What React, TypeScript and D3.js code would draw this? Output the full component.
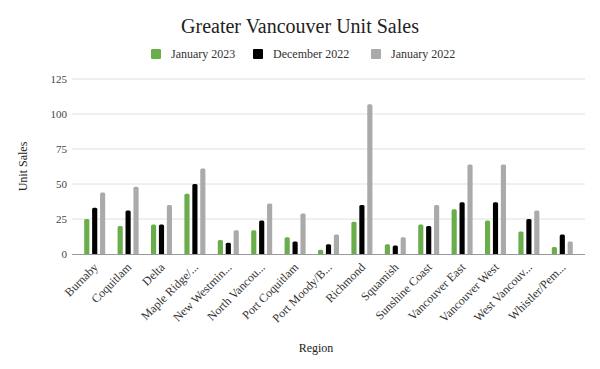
import React, { useEffect, useRef } from "react";
import * as d3 from "d3";

// Chart data
const regions = [
  "Burnaby",
  "Coquitlam",
  "Delta",
  "Maple Ridge/Pitt Meadows",
  "New Westminster",
  "North Vancouver",
  "Port Coquitlam",
  "Port Moody/Belcarra",
  "Richmond",
  "Squamish",
  "Sunshine Coast",
  "Vancouver East",
  "Vancouver West",
  "West Vancouver/Howe Sound",
  "Whistler/Pemberton",
];
// the labels as they show under the axis (long names cut short)
const tickLabels = [
  "Burnaby",
  "Coquitlam",
  "Delta",
  "Maple Ridge/...",
  "New Westmin...",
  "North Vancou...",
  "Port Coquitlam",
  "Port Moody/B...",
  "Richmond",
  "Squamish",
  "Sunshine Coast",
  "Vancouver East",
  "Vancouver West",
  "West Vancouv...",
  "Whistler/Pem...",
];
const jan2023 = [25, 20, 21, 43, 10, 17, 12, 3, 23, 7, 21, 32, 24, 16, 5];
const dec2022 = [33, 31, 21, 50, 8, 24, 9, 7, 35, 6, 20, 37, 37, 25, 14];
const jan2022 = [44, 48, 35, 61, 17, 36, 29, 14, 107, 12, 35, 64, 64, 31, 9];
const seriesNames = ["January 2023", "December 2022", "January 2022"];
const colors = ["#6aae4c", "#000000", "#aaaaaa"];
const yTicks = [0, 25, 50, 75, 100, 125];

const width = 600;
const height = 369;
const marginTop = 79;
const marginBottom = 115;
const plotLeft = 72;
const plotRight = 585;

const App: React.FC = () => {
  const svgRef = useRef<SVGSVGElement>(null);

  useEffect(() => {
    if (!svgRef.current) return;
    const svg = d3.select(svgRef.current);
    svg.selectAll("*").remove();

    const font = "'Liberation Serif', 'Times New Roman', serif";

    const x = d3.scaleBand().domain(regions).range([78, 579]);
    const inner = d3
      .scaleBand()
      .domain(seriesNames)
      .range([x.bandwidth() / 2 - 10.5, x.bandwidth() / 2 + 10.5])
      .paddingInner(0.35);

    const y = d3
      .scaleLinear()
      .domain([0, 125])
      .range([height - marginBottom, marginTop]);

    // title
    svg
      .append("text")
      .attr("x", 300)
      .attr("y", 33)
      .attr("text-anchor", "middle")
      .attr("font-family", font)
      .attr("font-size", 20)
      .attr("fill", "#222")
      .text("Greater Vancouver Unit Sales");

    // legend
    const legendX = [151, 253, 371];
    seriesNames.forEach((name, i) => {
      const g = svg.append("g").attr("transform", `translate(${legendX[i]},49)`);
      g.append("rect")
        .attr("width", 10)
        .attr("height", 10)
        .attr("rx", 1)
        .attr("fill", colors[i]);
      g.append("text")
        .attr("x", 20)
        .attr("y", 9)
        .attr("font-family", font)
        .attr("font-size", 12)
        .attr("fill", "#333")
        .text(name);
    });

    // grid lines
    svg
      .append("g")
      .selectAll("line")
      .data(yTicks.filter((t) => t > 0))
      .join("line")
      .attr("x1", plotLeft)
      .attr("x2", plotRight)
      .attr("y1", (d) => y(d))
      .attr("y2", (d) => y(d))
      .attr("stroke", "#e0e0e0");

    // y tick labels
    svg
      .append("g")
      .selectAll("text")
      .data(yTicks)
      .join("text")
      .attr("x", 67)
      .attr("y", (d) => y(d) + 4)
      .attr("text-anchor", "end")
      .attr("font-family", font)
      .attr("font-size", 11)
      .attr("fill", "#444")
      .text((d) => d);

    // bars
    const allSeries = [jan2023, dec2022, jan2022];
    allSeries.forEach((values, si) => {
      svg
        .append("g")
        .attr("fill", colors[si])
        .selectAll("path")
        .data(values)
        .join("path")
        .attr("d", (d, i) => {
          const x0 = (x(regions[i]) || 0) + (inner(seriesNames[si]) || 0);
          const w = inner.bandwidth();
          const top = y(d);
          const bottom = y(0);
          const r = Math.min(1.5, (bottom - top) / 2);
          return `M${x0},${bottom}V${top + r}Q${x0},${top} ${x0 + r},${top}H${x0 + w - r}Q${x0 + w},${top} ${x0 + w},${top + r}V${bottom}Z`;
        });
    });

    // baseline
    svg
      .append("line")
      .attr("x1", plotLeft)
      .attr("x2", plotRight)
      .attr("y1", y(0) + 0.5)
      .attr("y2", y(0) + 0.5)
      .attr("stroke", "#999");

    // x labels
    svg
      .append("g")
      .selectAll("text")
      .data(regions)
      .join("text")
      .attr("transform", (d) => {
        const cx = (x(d) || 0) + x.bandwidth() / 2 + 4;
        return `translate(${cx},${y(0) + 14}) rotate(-45)`;
      })
      .attr("text-anchor", "end")
      .attr("font-family", font)
      .attr("font-size", 12)
      .attr("fill", "#333")
      .text((d, i) => tickLabels[i]);

    // axis titles
    svg
      .append("text")
      .attr("x", 316)
      .attr("y", 352)
      .attr("text-anchor", "middle")
      .attr("font-family", font)
      .attr("font-size", 12)
      .attr("fill", "#222")
      .text("Region");

    svg
      .append("text")
      .attr("transform", `translate(27,${y(62.5)}) rotate(-90)`)
      .attr("text-anchor", "middle")
      .attr("font-family", font)
      .attr("font-size", 12)
      .attr("fill", "#222")
      .text("Unit Sales");
  }, []);

  return (
    <div style={{ position: "absolute", left: 0, top: 0, background: "#fff" }}>
      <svg ref={svgRef} width={width} height={height} />
    </div>
  );
};

export default App;
